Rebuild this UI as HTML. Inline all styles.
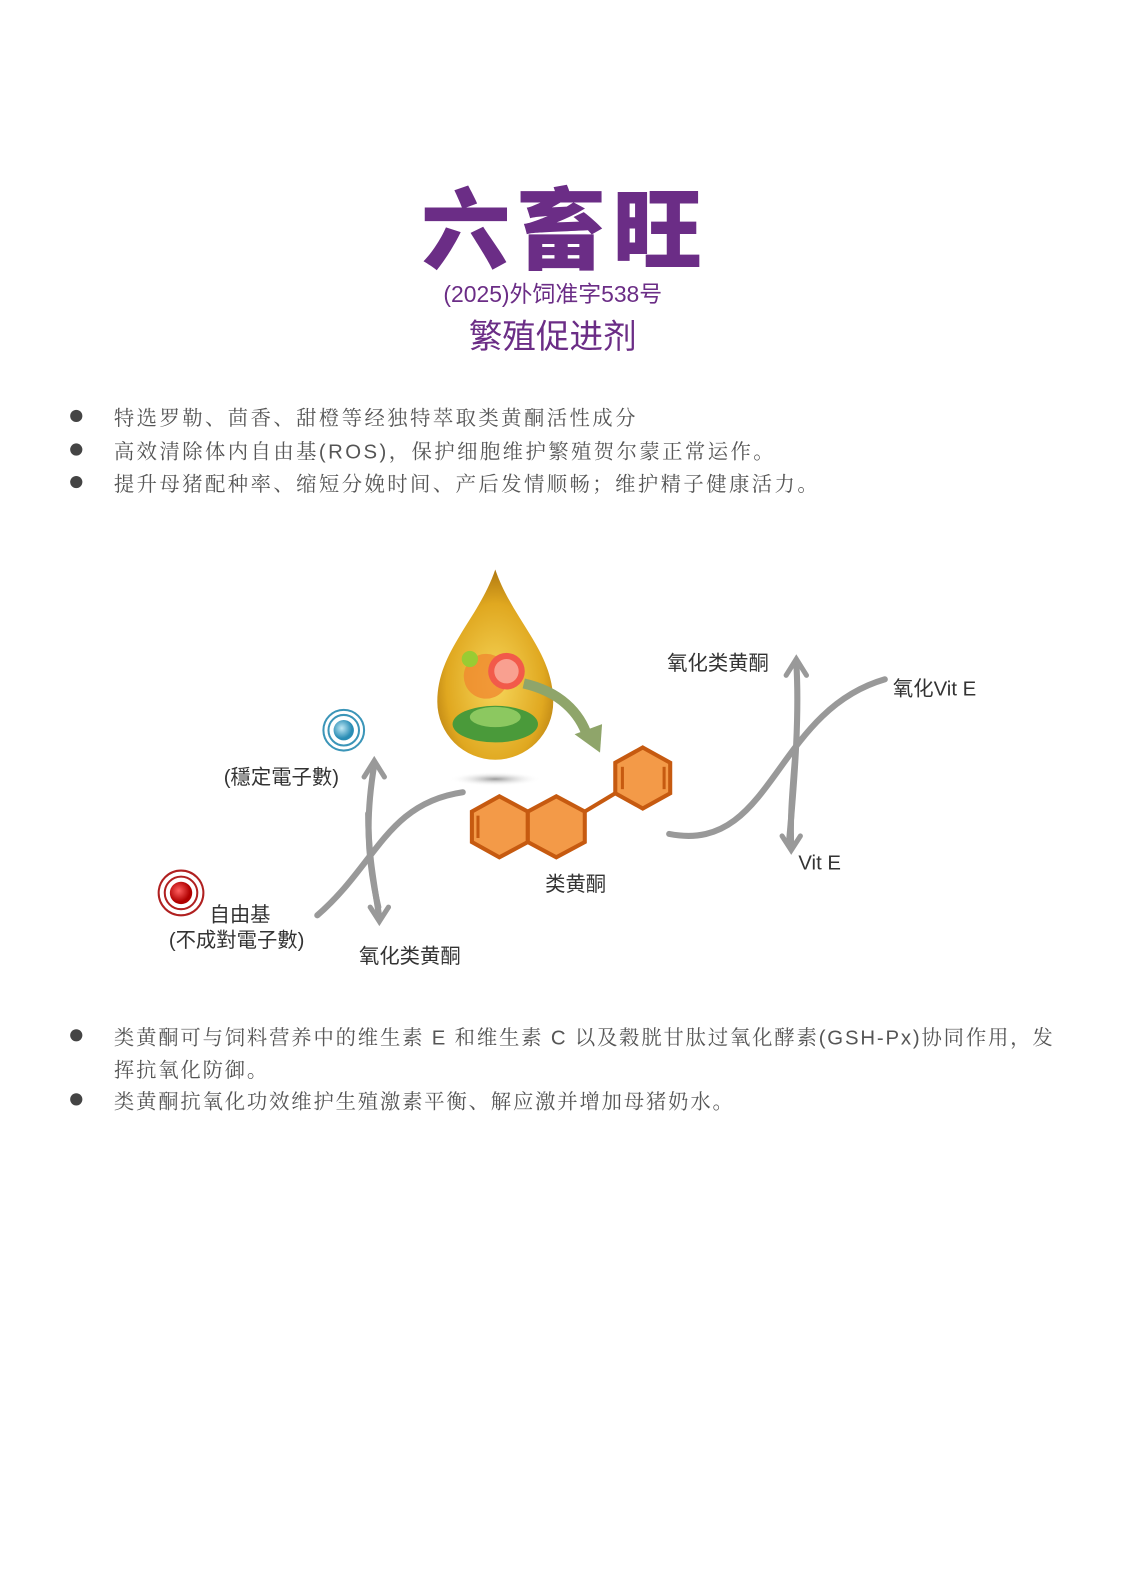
<!DOCTYPE html>
<html><head><meta charset="utf-8"><style>
body{margin:0;background:#fff;}
.pg{position:relative;width:1125px;height:1593px;overflow:hidden;font-family:"Liberation Sans","Noto Sans CJK SC",sans-serif;}
.w{position:absolute;left:0;top:0;width:1125px;height:1593px;transform:scale(1.017);transform-origin:0 0;}
.t{position:absolute;white-space:nowrap;}
.b{position:absolute;left:112px;font-family:"Liberation Sans","Noto Serif CJK SC",serif;font-size:20px;color:#555;letter-spacing:2.4px;white-space:nowrap;}
.d{position:absolute;left:69px;width:12px;height:12px;border-radius:50%;background:#444;}
.l{position:absolute;font-size:20px;color:#333;white-space:nowrap;}
</style></head><body><div class="pg"><div class="w">
<div class="t" style="left:414px;top:166px;font-size:88px;font-weight:900;color:#6b2d86;letter-spacing:6px;font-family:'Noto Sans CJK SC',sans-serif;line-height:110px;">六畜旺</div>
<div class="t" style="left:436px;top:272px;font-size:22.5px;color:#6b2d86;">(2025)外饲准字538号</div>
<div class="t" style="left:461px;top:304px;font-size:33px;color:#6b2d86;">繁殖促进剂</div>

<div class="d" style="top:403px"></div><div class="b" style="top:395px">特选罗勒、茴香、甜橙等经独特萃取类黄酮活性成分</div>
<div class="d" style="top:436px"></div><div class="b" style="top:428px">高效清除体内自由基(ROS)，保护细胞维护繁殖贺尔蒙正常运作。</div>
<div class="d" style="top:468px"></div><div class="b" style="top:460px">提升母猪配种率、缩短分娩时间、产后发情顺畅；维护精子健康活力。</div>

<svg style="position:absolute;left:0;top:0" width="1125" height="1593">
<defs>
<radialGradient id="dg" cx="50%" cy="60%" r="60%"><stop offset="0" stop-color="#f6d65a"/><stop offset="0.7" stop-color="#e0a820"/><stop offset="1" stop-color="#b07810"/></radialGradient>
<radialGradient id="bl" cx="40%" cy="40%"><stop offset="0" stop-color="#bfe8f5"/><stop offset="1" stop-color="#2a8db5"/></radialGradient>
<radialGradient id="rd" cx="40%" cy="40%"><stop offset="0" stop-color="#ff6060"/><stop offset="1" stop-color="#b00000"/></radialGradient>
<radialGradient id="sh"><stop offset="0" stop-color="#999"/><stop offset="1" stop-color="#fff" stop-opacity="0"/></radialGradient>
</defs>
<ellipse cx="487" cy="766" rx="45" ry="7" fill="url(#sh)"/>
<path d="M487 560 C470 610 430 640 430 690 A57 57 0 0 0 544 690 C544 640 504 610 487 560Z" fill="url(#dg)"/>
<circle cx="478" cy="665" r="22" fill="#f08a30" opacity="0.8"/>
<circle cx="498" cy="660" r="18" fill="#f25a4a"/>
<circle cx="498" cy="660" r="12" fill="#f9a090"/>
<circle cx="462" cy="648" r="8" fill="#9c3"/>
<ellipse cx="487" cy="712" rx="42" ry="18" fill="#4a9a3a"/>
<ellipse cx="487" cy="705" rx="25" ry="10" fill="#8cc860"/>
<path d="M515 672 C550 680 570 700 578 725" stroke="#8fa56a" stroke-width="10" fill="none"/>
<polygon points="565,722 590,740 592,712" fill="#8fa56a"/>
<g fill="#f39a48" stroke="#c65a10" stroke-width="4">
<polygon points="491,783 519,798 519,828 491,843 464,828 464,798"/>
<polygon points="547,783 575,798 575,828 547,843 519,828 519,798"/>
<polygon points="632,735 659,750 659,780 632,795 605,780 605,750"/>
</g>
<line x1="575" y1="798" x2="605" y2="780" stroke="#c65a10" stroke-width="4"/>
<g fill="none" stroke="#c65a10" stroke-width="3"><line x1="470" y1="802" x2="470" y2="824"/><line x1="612" y1="754" x2="612" y2="776"/><line x1="653" y1="754" x2="653" y2="776"/></g>
<g fill="none" stroke="#999" stroke-width="6" stroke-linecap="round">
<path d="M455 779 C380 790 370 850 312 900"/>
<path d="M372 892 C360 840 360 800 368 752"/>
<path d="M362 800 C362 840 368 870 373 902"/>
<path d="M658 820 C760 840 760 700 870 668"/>
<path d="M776 826 C782 760 786 700 783 652"/>
<path d="M782 742 C778 790 777 810 778 832"/>
</g>
<g fill="none" stroke="#999" stroke-width="5" stroke-linecap="round">
<polyline points="358,764 368,748 378,764"/>
<polyline points="364,892 373,906 382,892"/>
<polyline points="773,664 783,648 793,664"/>
<polyline points="769,822 778,836 787,822"/>
</g>
<circle cx="338" cy="718" r="20" fill="none" stroke="#3b95b8" stroke-width="2"/>
<circle cx="338" cy="718" r="15" fill="none" stroke="#3b95b8" stroke-width="2"/>
<circle cx="338" cy="718" r="10" fill="url(#bl)"/>
<circle cx="178" cy="878" r="22" fill="none" stroke="#b02020" stroke-width="2"/>
<circle cx="178" cy="878" r="16" fill="none" stroke="#b02020" stroke-width="2"/>
<circle cx="178" cy="878" r="11" fill="url(#rd)"/>
</svg>
<div class="l" style="left:656px;top:636px">氧化类黄酮</div>
<div class="l" style="left:878px;top:661px">氧化Vit E</div>
<div class="l" style="left:785px;top:838px">Vit E</div>
<div class="l" style="left:220px;top:748px">(穩定電子數)</div>
<div class="l" style="left:536px;top:853px">类黄酮</div>
<div class="l" style="left:206px;top:883px">自由基</div>
<div class="l" style="left:166px;top:908px">(不成對電子數)</div>
<div class="l" style="left:353px;top:924px">氧化类黄酮</div>

<div class="d" style="top:1012px"></div><div class="b" style="top:1004px;letter-spacing:1.8px">类黄酮可与饲料营养中的维生素 E 和维生素 C 以及穀胱甘肽过氧化酵素(GSH-Px)协同作用，发</div>
<div class="b" style="top:1036px;letter-spacing:1.8px">挥抗氧化防御。</div>
<div class="d" style="top:1075px"></div><div class="b" style="top:1067px;letter-spacing:1.8px">类黄酮抗氧化功效维护生殖激素平衡、解应激并增加母猪奶水。</div>
</div></div></body></html>
